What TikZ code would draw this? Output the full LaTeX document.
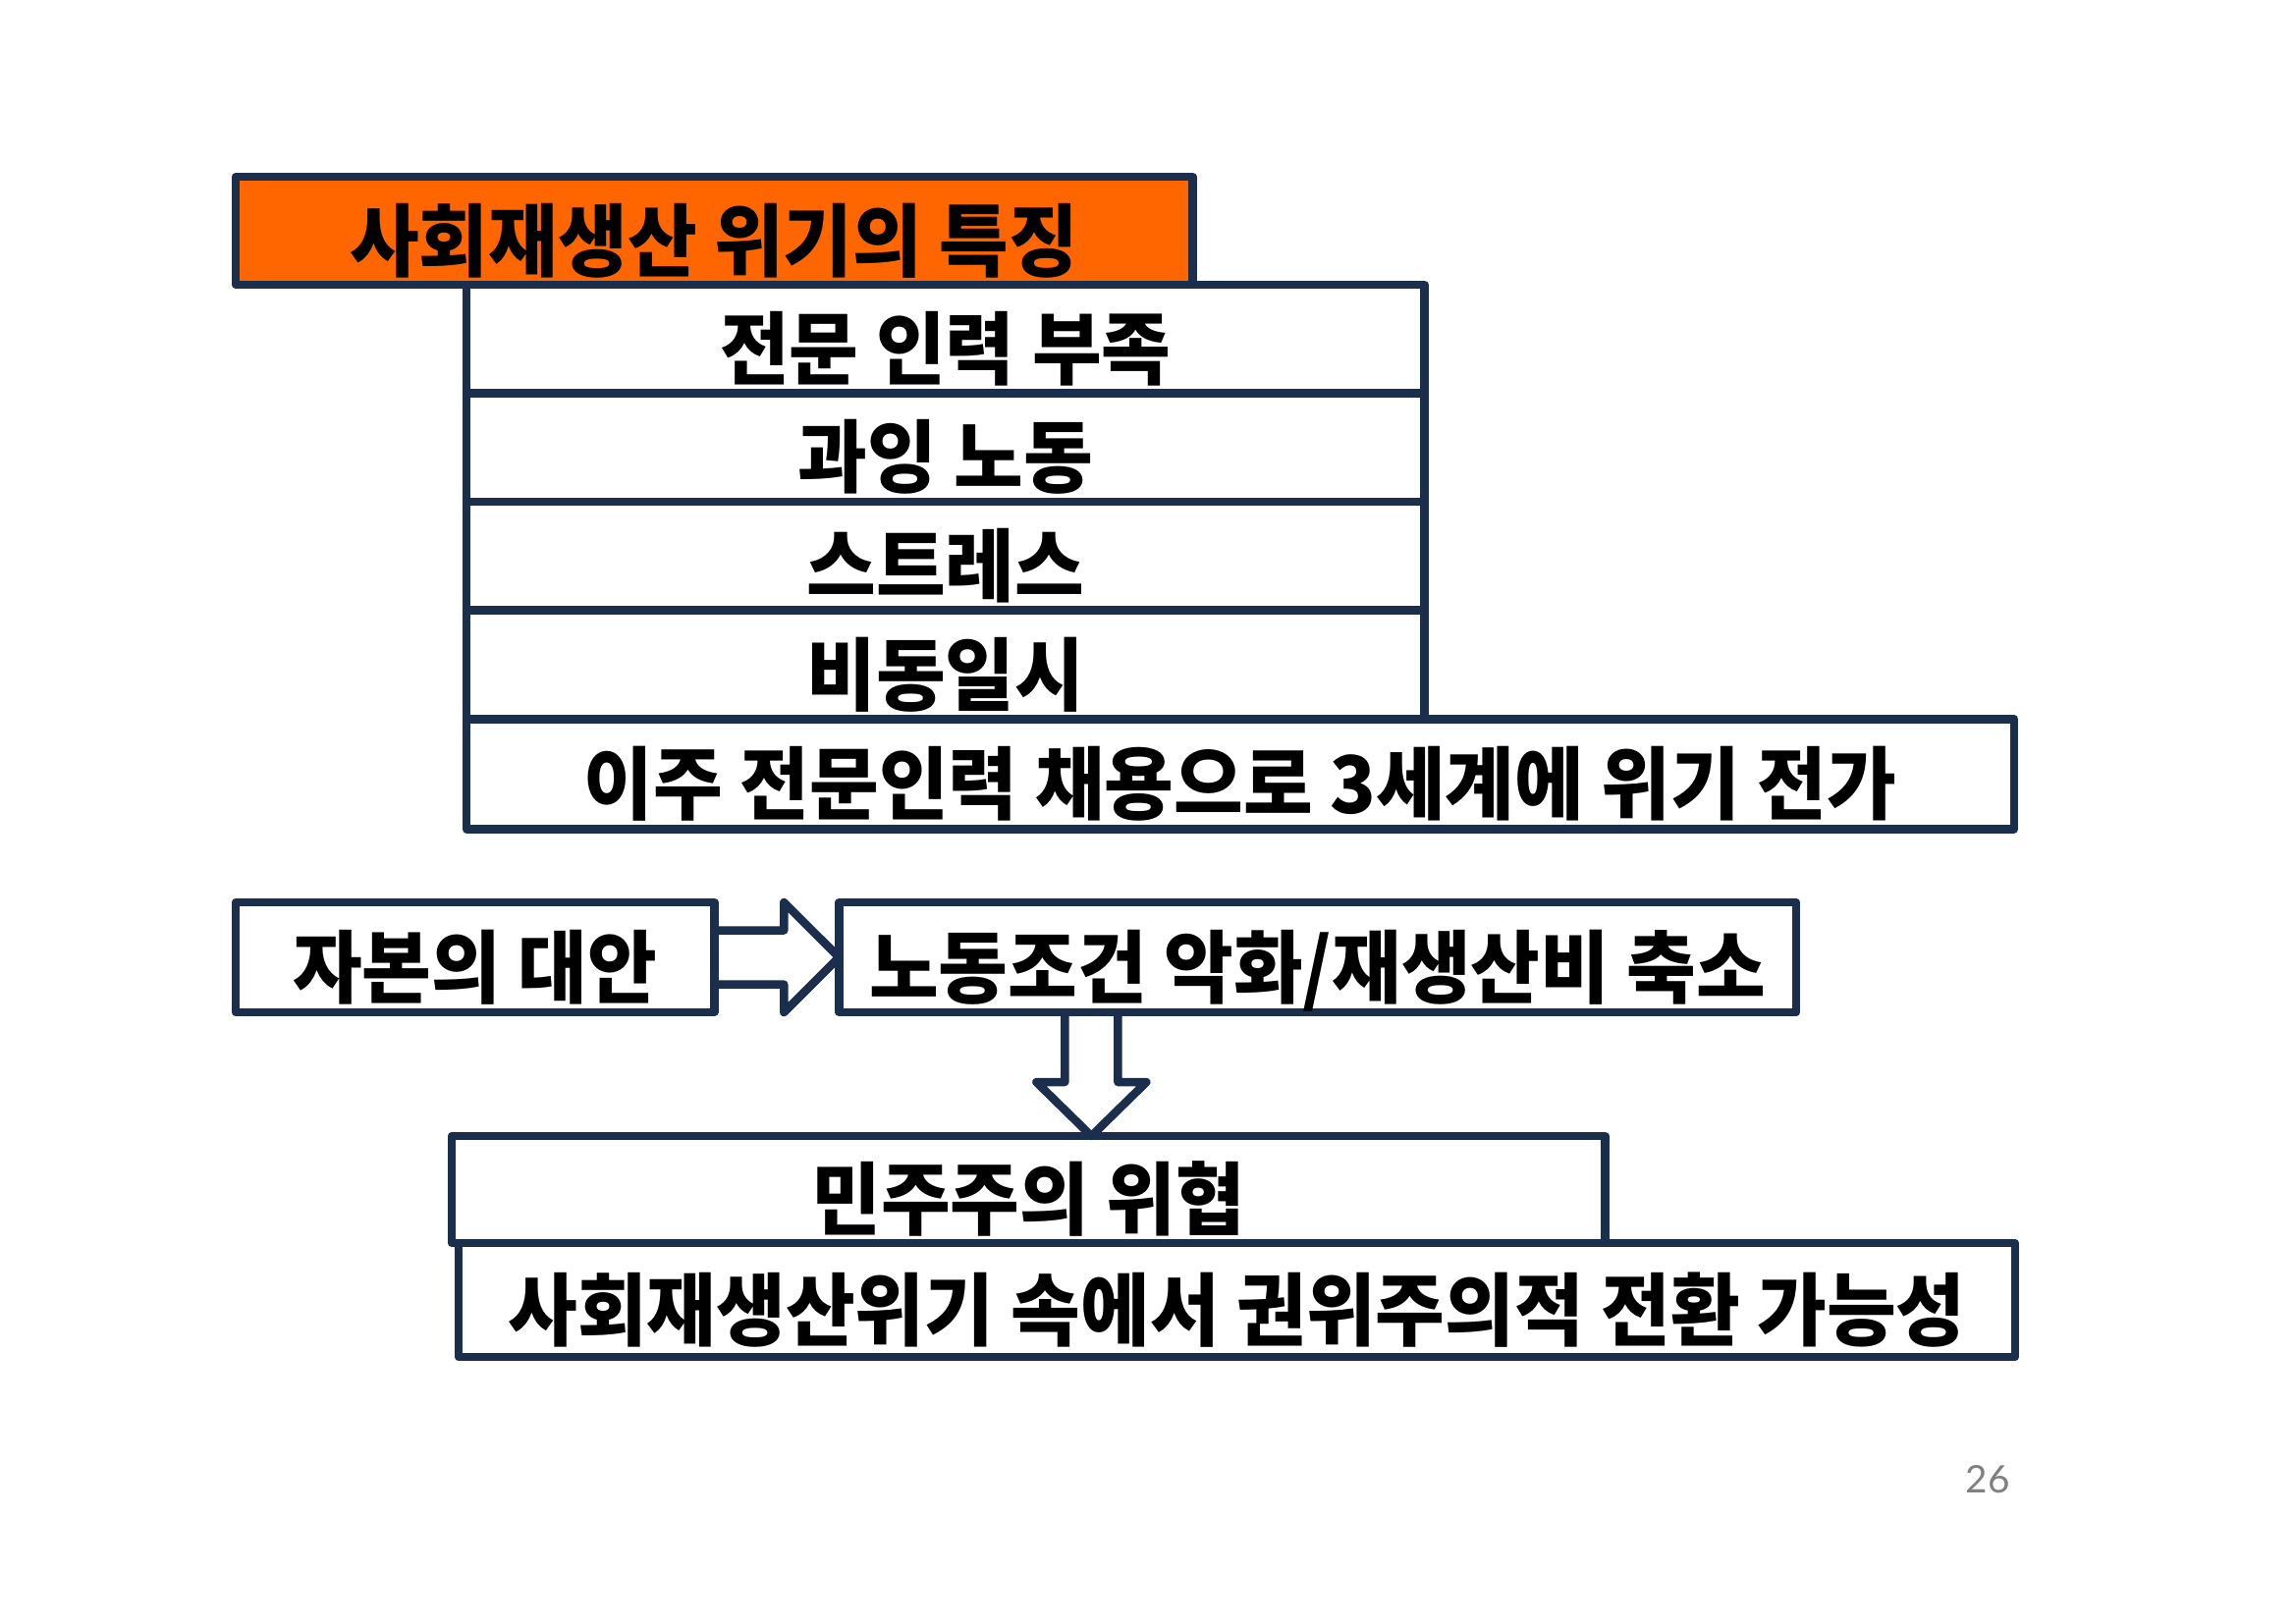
\documentclass[tikz,border=0pt]{standalone}
\usepackage{graphicx}
\usepackage{fontspec}
\newfontfamily\krfont{Noto Sans CJK KR}
\setsansfont{Lato}
\usetikzlibrary{positioning, calc}
\definecolor{navy}{HTML}{1B2E4B}
\definecolor{slideorange}{HTML}{FF6600}
\newcommand{\squeeze}[1]{\scalebox{0.95}[1]{#1}}
\tikzset{
x=0.01cm, y=-0.01cm, % one unit is one pixel of the slide, y runs down
box/.style={draw=navy, line width=2.4pt, line join=round, fill=white, inner sep=0pt, outer sep=0pt, text height=0.85cm, text depth=0.05cm, font=\krfont\bfseries\fontsize{23}{28}\selectfont}, % every framed text box
titlebox/.style={box, fill=slideorange}, % the orange heading
rowbox/.style={box, minimum width=9.75cm, minimum height=1.105cm}, % rows of the list
hollow/.style={draw=navy, line width=2.4pt, line join=round}, % outline of the block arrows
}

\begin{document}
\begin{tikzpicture}
    \useasboundingbox[fill=white] (0,0) rectangle (2337,1653);
    % list of features
    \node[rowbox, anchor=north west] (row1) at (475,290) {\squeeze{전문 인력 부족}};
    \node[rowbox, below=0pt of row1] (row2) {\squeeze{과잉 노동}};
    \node[rowbox, below=0pt of row2] (row3) {\squeeze{스트레스}};
    \node[rowbox, below=0pt of row3] (row4) {\squeeze{비동일시}};
    \node[box, below=0pt of row4.south west, anchor=north west, minimum width=15.75cm, minimum height=1.12cm] (shift) {\squeeze{이주 전문인력 채용으로 3세계에 위기 전가}};
    \node[titlebox, anchor=north west, minimum width=9.74cm, minimum height=1.1cm] (title) at (240,180) {\squeeze{사회재생산 위기의 특징}};
    % capital's answer
    \node[box, anchor=north west, minimum width=4.87cm, minimum height=1.12cm] (capital) at (240,919) {\squeeze{자본의 대안}};
    \node[box, right=1.27cm of capital, minimum width=9.74cm, minimum height=1.12cm] (cond) {\squeeze{노동조건 악화/재생산비 축소}};
    \node[box, anchor=north west, minimum width=11.74cm, minimum height=1.09cm] (threat) at (460,1157) {\squeeze{민주주의 위협}};
    \node[box, anchor=north west, minimum width=15.84cm, minimum height=1.16cm] (auth) at (467,1266) {\squeeze{사회재생산위기 속에서 권위주의적 전환 가능성}};
    \coordinate (dn) at ($(cond.south west)+(257,0)$);
    \draw[hollow] ($(capital.east)+(0,-27.5)$) -- ++(71,0) -- ++(0,-28.5) -- (cond.west) -- ($(capital.east)+(71,56)$) -- ++(0,-28.5) -- ($(capital.east)+(0,27.5)$);
    \draw[hollow] ($(dn)+(-27,0)$) -- ++(0,71) -- ++(-29,0) -- (dn |- threat.north) -- ($(dn)+(56,71)$) -- ++(-29,0) -- ($(dn)+(27,0)$);
    % page number
    \node[font=\sffamily\fontsize{11}{13}\selectfont, text=gray] (page) at (2024,1507) {26};
\end{tikzpicture}
\end{document}
